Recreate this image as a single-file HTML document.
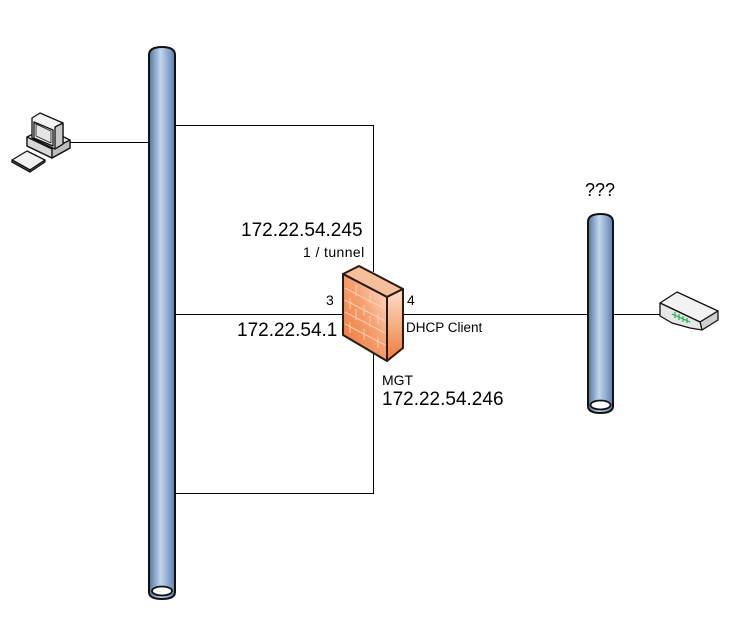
<!DOCTYPE html>
<html><head><meta charset="utf-8"><style>
html,body{margin:0;padding:0;background:#fff;}
body{width:748px;height:634px;overflow:hidden;position:relative;font-family:"Liberation Sans",Arial,sans-serif;}
svg{position:absolute;left:0;top:0;}
.t{position:absolute;color:#000;white-space:nowrap;line-height:1;}
</style></head><body>
<svg width="748" height="634" viewBox="0 0 748 634" xmlns="http://www.w3.org/2000/svg">
<defs>
<linearGradient id="pipe" x1="0" x2="1" y1="0" y2="0">
<stop offset="0" stop-color="#4f74a3"/>
<stop offset="0.45" stop-color="#c3d5ec"/>
<stop offset="1" stop-color="#5a81b2"/>
</linearGradient>
<linearGradient id="fwf" x1="0" y1="1" x2="1" y2="0">
<stop offset="0" stop-color="#ef7434"/>
<stop offset="0.55" stop-color="#f4a070"/>
<stop offset="1" stop-color="#fde6d6"/>
</linearGradient>
<linearGradient id="fws" x1="0" y1="0" x2="0" y2="1">
<stop offset="0" stop-color="#fde0cc"/>
<stop offset="1" stop-color="#ef7a3a"/>
</linearGradient>
</defs>
<g stroke="#000" stroke-width="1" fill="none">
<path d="M70,142.5 H149"/>
<path d="M175,125.5 H373.5 V272"/>
<path d="M175,493.5 H373.5 V352"/>
<path d="M175,314.5 H344"/>
<path d="M403,314.5 H588"/>
<path d="M613,314.5 H662"/>
</g>
<path d="M149,55 Q149,47 162,47 Q175,47 175,55 L175,592 Q175,599 162,599 Q149,599 149,592 Z" fill="url(#pipe)" stroke="#111" stroke-width="2"/>
<ellipse cx="162" cy="591" rx="10" ry="4.5" fill="#fff" stroke="#111" stroke-width="1.8"/>
<path d="M588,222 Q588,214 600.5,214 Q613,214 613,222 L613,406 Q613,413 600.5,413 Q588,413 588,406 Z" fill="url(#pipe)" stroke="#111" stroke-width="2"/>
<ellipse cx="600.5" cy="405" rx="10" ry="4.5" fill="#fff" stroke="#111" stroke-width="1.8"/>
<g stroke="#2a1a10" stroke-width="2" stroke-linejoin="round">
<polygon points="343,274 359,266 403,289 387,297" fill="#f6bf9c"/>
<polygon points="387,297 403,289 403,348 387,361" fill="url(#fws)"/>
<polygon points="343,274 387,297 387,361 343,335" fill="url(#fwf)"/>
</g>
<g stroke="#fcd6bc" stroke-width="1" fill="none" opacity="0.9">
<path d="M345,288 L385,309 M345,300 L385,321 M345,312 L385,333 M345,324 L385,345"/>
<path d="M356,285 V296 M370,292 V303 M350,298 V309 M364,305 V316 M378,313 V324 M356,309 V320 M370,316 V327 M350,322 V333 M364,329 V340 M378,337 V348"/>
</g>
<g stroke="#111" stroke-width="1.3" stroke-linejoin="round">
<polygon points="27,146 52,158 70,148 70,140 45,128 27,137" fill="#e8e8e8"/>
<polygon points="27,137 52,149 52,158 27,146" fill="#d8d8d8"/>
<polygon points="52,149 70,140 70,148 52,158" fill="#bdbdbd"/>
<polygon points="32,118 40,113 63,123 63,144 55,149 32,138" fill="#f2f2f2"/>
<polygon points="55,127 63,123 63,144 55,149" fill="#c8c8c8"/>
<polygon points="34,122 53,130 53,146 34,138" fill="#fafafa"/>
<polygon points="36,124 51,131 51,143 36,136" fill="#e4e4e4" stroke-width="0.8"/>
<polygon points="12,160 27,151 45,160 30,170" fill="#f0f0f0"/>
<polygon points="12,160 30,170 30,172 12,162" fill="#999"/>
<polygon points="30,170 45,160 45,162 30,172" fill="#777"/>
</g>
<g stroke="#111" stroke-width="1.3" stroke-linejoin="round">
<polygon points="660,303 677,292 718,311 700,322" fill="#f2f2f2"/>
<polygon points="700,322 718,311 718,320 702,330" fill="#cfcfcf"/>
<polygon points="660,303 700,322 702,330 690,328 672,323 660,316" fill="#e6e6e6"/>
</g>
<g stroke="#22b14c" stroke-width="1.2">
<path d="M672,314 L690,322 M675,312 V318 M679,314 V320 M683,316 V322 M687,318 V323"/>
</g>
</svg>
<div class="t" style="left:241px;top:221px;font-size:19px;">172.22.54.245</div>
<div class="t" style="left:303px;top:245px;font-size:14px;letter-spacing:0.4px;">1 / tunnel</div>
<div class="t" style="left:326px;top:293px;font-size:14px;">3</div>
<div class="t" style="left:407px;top:293px;font-size:14px;">4</div>
<div class="t" style="left:237px;top:321px;font-size:19px;">172.22.54.1</div>
<div class="t" style="left:406px;top:321px;font-size:13.5px;">DHCP Client</div>
<div class="t" style="left:382px;top:373px;font-size:14px;">MGT</div>
<div class="t" style="left:382px;top:390px;font-size:19px;">172.22.54.246</div>
<div class="t" style="left:585px;top:181px;font-size:18px;">???</div>
</body></html>
